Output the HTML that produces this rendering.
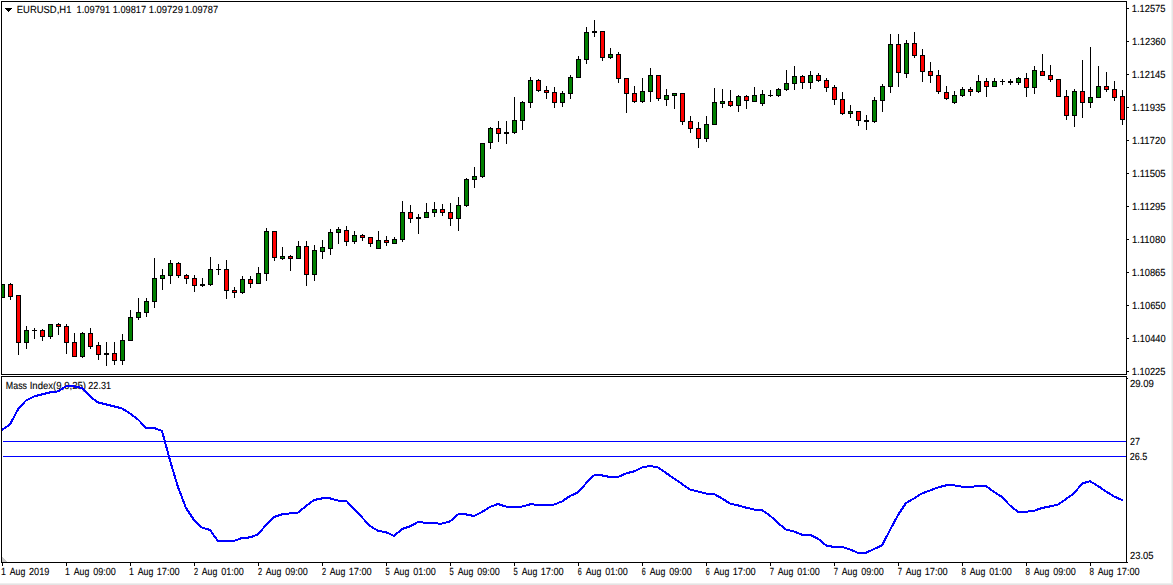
<!DOCTYPE html>
<html><head><meta charset="utf-8"><title>EURUSD,H1</title>
<style>
html,body{margin:0;padding:0;background:#fff}
body{width:1173px;height:585px;overflow:hidden;position:relative;font-family:"Liberation Sans",sans-serif}
svg{position:absolute;left:0;top:0;display:block}
text{font-family:"Liberation Sans",sans-serif;white-space:pre}
</style></head><body>
<svg width="1173" height="585" viewBox="0 0 1173 585" shape-rendering="crispEdges">
<defs><clipPath id="cm"><rect x="2" y="2" width="1124" height="372"/></clipPath><clipPath id="cs"><rect x="2" y="377" width="1124" height="185"/></clipPath></defs>
<g clip-path="url(#cm)"><rect x="2" y="284" width="1" height="14" fill="#000"/><rect x="0" y="284" width="5" height="14" fill="#000"/><rect x="1" y="285" width="3" height="12" fill="#008000"/><rect x="10" y="283" width="1" height="17" fill="#000"/><rect x="8" y="284" width="5" height="13" fill="#000"/><rect x="9" y="285" width="3" height="11" fill="#ff0000"/><rect x="18" y="295" width="1" height="60" fill="#000"/><rect x="16" y="295" width="5" height="48" fill="#000"/><rect x="17" y="296" width="3" height="46" fill="#ff0000"/><rect x="26" y="326" width="1" height="23" fill="#000"/><rect x="24" y="330" width="5" height="13" fill="#000"/><rect x="25" y="331" width="3" height="11" fill="#008000"/><rect x="34" y="328" width="1" height="11" fill="#000"/><rect x="32" y="330" width="5" height="1" fill="#000"/><rect x="42" y="329" width="1" height="12" fill="#000"/><rect x="40" y="330" width="5" height="7" fill="#000"/><rect x="41" y="331" width="3" height="5" fill="#ff0000"/><rect x="50" y="324" width="1" height="15" fill="#000"/><rect x="48" y="324" width="5" height="13" fill="#000"/><rect x="49" y="325" width="3" height="11" fill="#008000"/><rect x="58" y="323" width="1" height="12" fill="#000"/><rect x="56" y="324" width="5" height="3" fill="#000"/><rect x="57" y="325" width="3" height="1" fill="#ff0000"/><rect x="66" y="324" width="1" height="30" fill="#000"/><rect x="64" y="326" width="5" height="17" fill="#000"/><rect x="65" y="327" width="3" height="15" fill="#ff0000"/><rect x="74" y="333" width="1" height="24" fill="#000"/><rect x="72" y="342" width="5" height="15" fill="#000"/><rect x="73" y="343" width="3" height="13" fill="#ff0000"/><rect x="82" y="332" width="1" height="26" fill="#000"/><rect x="80" y="333" width="5" height="24" fill="#000"/><rect x="81" y="334" width="3" height="22" fill="#008000"/><rect x="90" y="328" width="1" height="21" fill="#000"/><rect x="88" y="333" width="5" height="14" fill="#000"/><rect x="89" y="334" width="3" height="12" fill="#ff0000"/><rect x="98" y="342" width="1" height="18" fill="#000"/><rect x="96" y="345" width="5" height="10" fill="#000"/><rect x="97" y="346" width="3" height="8" fill="#ff0000"/><rect x="106" y="342" width="1" height="24" fill="#000"/><rect x="104" y="353" width="5" height="2" fill="#000"/><rect x="114" y="342" width="1" height="23" fill="#000"/><rect x="112" y="353" width="5" height="8" fill="#000"/><rect x="113" y="354" width="3" height="6" fill="#ff0000"/><rect x="122" y="334" width="1" height="31" fill="#000"/><rect x="120" y="340" width="5" height="21" fill="#000"/><rect x="121" y="341" width="3" height="19" fill="#008000"/><rect x="130" y="310" width="1" height="31" fill="#000"/><rect x="128" y="317" width="5" height="24" fill="#000"/><rect x="129" y="318" width="3" height="22" fill="#008000"/><rect x="138" y="298" width="1" height="22" fill="#000"/><rect x="136" y="312" width="5" height="6" fill="#000"/><rect x="137" y="313" width="3" height="4" fill="#008000"/><rect x="146" y="298" width="1" height="19" fill="#000"/><rect x="144" y="301" width="5" height="12" fill="#000"/><rect x="145" y="302" width="3" height="10" fill="#008000"/><rect x="154" y="258" width="1" height="50" fill="#000"/><rect x="152" y="278" width="5" height="24" fill="#000"/><rect x="153" y="279" width="3" height="22" fill="#008000"/><rect x="162" y="269" width="1" height="21" fill="#000"/><rect x="160" y="275" width="5" height="4" fill="#000"/><rect x="161" y="276" width="3" height="2" fill="#008000"/><rect x="170" y="260" width="1" height="24" fill="#000"/><rect x="168" y="263" width="5" height="13" fill="#000"/><rect x="169" y="264" width="3" height="11" fill="#008000"/><rect x="178" y="262" width="1" height="16" fill="#000"/><rect x="176" y="263" width="5" height="13" fill="#000"/><rect x="177" y="264" width="3" height="11" fill="#ff0000"/><rect x="186" y="274" width="1" height="10" fill="#000"/><rect x="184" y="275" width="5" height="4" fill="#000"/><rect x="185" y="276" width="3" height="2" fill="#ff0000"/><rect x="194" y="275" width="1" height="17" fill="#000"/><rect x="192" y="278" width="5" height="8" fill="#000"/><rect x="193" y="279" width="3" height="6" fill="#ff0000"/><rect x="202" y="278" width="1" height="9" fill="#000"/><rect x="200" y="284" width="5" height="2" fill="#000"/><rect x="210" y="257" width="1" height="29" fill="#000"/><rect x="208" y="269" width="5" height="16" fill="#000"/><rect x="209" y="270" width="3" height="14" fill="#008000"/><rect x="218" y="264" width="1" height="11" fill="#000"/><rect x="216" y="269" width="5" height="1" fill="#000"/><rect x="226" y="260" width="1" height="39" fill="#000"/><rect x="224" y="269" width="5" height="22" fill="#000"/><rect x="225" y="270" width="3" height="20" fill="#ff0000"/><rect x="234" y="287" width="1" height="11" fill="#000"/><rect x="232" y="290" width="5" height="3" fill="#000"/><rect x="233" y="291" width="3" height="1" fill="#ff0000"/><rect x="242" y="276" width="1" height="18" fill="#000"/><rect x="240" y="279" width="5" height="14" fill="#000"/><rect x="241" y="280" width="3" height="12" fill="#008000"/><rect x="250" y="276" width="1" height="12" fill="#000"/><rect x="248" y="279" width="5" height="5" fill="#000"/><rect x="249" y="280" width="3" height="3" fill="#ff0000"/><rect x="258" y="267" width="1" height="17" fill="#000"/><rect x="256" y="273" width="5" height="11" fill="#000"/><rect x="257" y="274" width="3" height="9" fill="#008000"/><rect x="266" y="228" width="1" height="53" fill="#000"/><rect x="264" y="231" width="5" height="43" fill="#000"/><rect x="265" y="232" width="3" height="41" fill="#008000"/><rect x="274" y="231" width="1" height="30" fill="#000"/><rect x="272" y="231" width="5" height="27" fill="#000"/><rect x="273" y="232" width="3" height="25" fill="#ff0000"/><rect x="282" y="247" width="1" height="13" fill="#000"/><rect x="280" y="256" width="5" height="3" fill="#000"/><rect x="281" y="257" width="3" height="1" fill="#008000"/><rect x="290" y="255" width="1" height="16" fill="#000"/><rect x="288" y="256" width="5" height="3" fill="#000"/><rect x="289" y="257" width="3" height="1" fill="#ff0000"/><rect x="298" y="241" width="1" height="18" fill="#000"/><rect x="296" y="246" width="5" height="13" fill="#000"/><rect x="297" y="247" width="3" height="11" fill="#008000"/><rect x="306" y="241" width="1" height="45" fill="#000"/><rect x="304" y="246" width="5" height="29" fill="#000"/><rect x="305" y="247" width="3" height="27" fill="#ff0000"/><rect x="314" y="245" width="1" height="36" fill="#000"/><rect x="312" y="250" width="5" height="25" fill="#000"/><rect x="313" y="251" width="3" height="23" fill="#008000"/><rect x="322" y="240" width="1" height="19" fill="#000"/><rect x="320" y="247" width="5" height="5" fill="#000"/><rect x="321" y="248" width="3" height="3" fill="#008000"/><rect x="330" y="229" width="1" height="26" fill="#000"/><rect x="328" y="232" width="5" height="17" fill="#000"/><rect x="329" y="233" width="3" height="15" fill="#008000"/><rect x="338" y="227" width="1" height="17" fill="#000"/><rect x="336" y="229" width="5" height="4" fill="#000"/><rect x="337" y="230" width="3" height="2" fill="#008000"/><rect x="346" y="226" width="1" height="20" fill="#000"/><rect x="344" y="230" width="5" height="12" fill="#000"/><rect x="345" y="231" width="3" height="10" fill="#ff0000"/><rect x="354" y="231" width="1" height="13" fill="#000"/><rect x="352" y="235" width="5" height="7" fill="#000"/><rect x="353" y="236" width="3" height="5" fill="#008000"/><rect x="362" y="234" width="1" height="7" fill="#000"/><rect x="360" y="235" width="5" height="3" fill="#000"/><rect x="361" y="236" width="3" height="1" fill="#ff0000"/><rect x="370" y="237" width="1" height="10" fill="#000"/><rect x="368" y="237" width="5" height="7" fill="#000"/><rect x="369" y="238" width="3" height="5" fill="#ff0000"/><rect x="378" y="231" width="1" height="18" fill="#000"/><rect x="376" y="240" width="5" height="9" fill="#000"/><rect x="377" y="241" width="3" height="7" fill="#008000"/><rect x="386" y="236" width="1" height="10" fill="#000"/><rect x="384" y="240" width="5" height="3" fill="#000"/><rect x="385" y="241" width="3" height="1" fill="#ff0000"/><rect x="394" y="237" width="1" height="7" fill="#000"/><rect x="392" y="239" width="5" height="5" fill="#000"/><rect x="393" y="240" width="3" height="3" fill="#008000"/><rect x="402" y="201" width="1" height="41" fill="#000"/><rect x="400" y="212" width="5" height="28" fill="#000"/><rect x="401" y="213" width="3" height="26" fill="#008000"/><rect x="410" y="205" width="1" height="18" fill="#000"/><rect x="408" y="212" width="5" height="7" fill="#000"/><rect x="409" y="213" width="3" height="5" fill="#ff0000"/><rect x="418" y="214" width="1" height="20" fill="#000"/><rect x="416" y="217" width="5" height="2" fill="#000"/><rect x="426" y="203" width="1" height="15" fill="#000"/><rect x="424" y="212" width="5" height="6" fill="#000"/><rect x="425" y="213" width="3" height="4" fill="#008000"/><rect x="434" y="202" width="1" height="15" fill="#000"/><rect x="432" y="209" width="5" height="4" fill="#000"/><rect x="433" y="210" width="3" height="2" fill="#008000"/><rect x="442" y="204" width="1" height="12" fill="#000"/><rect x="440" y="209" width="5" height="4" fill="#000"/><rect x="441" y="210" width="3" height="2" fill="#ff0000"/><rect x="450" y="203" width="1" height="23" fill="#000"/><rect x="448" y="212" width="5" height="7" fill="#000"/><rect x="449" y="213" width="3" height="5" fill="#ff0000"/><rect x="458" y="197" width="1" height="34" fill="#000"/><rect x="456" y="205" width="5" height="14" fill="#000"/><rect x="457" y="206" width="3" height="12" fill="#008000"/><rect x="466" y="178" width="1" height="29" fill="#000"/><rect x="464" y="179" width="5" height="27" fill="#000"/><rect x="465" y="180" width="3" height="25" fill="#008000"/><rect x="474" y="167" width="1" height="21" fill="#000"/><rect x="472" y="176" width="5" height="4" fill="#000"/><rect x="473" y="177" width="3" height="2" fill="#008000"/><rect x="482" y="143" width="1" height="35" fill="#000"/><rect x="480" y="143" width="5" height="34" fill="#000"/><rect x="481" y="144" width="3" height="32" fill="#008000"/><rect x="490" y="127" width="1" height="22" fill="#000"/><rect x="488" y="128" width="5" height="15" fill="#000"/><rect x="489" y="129" width="3" height="13" fill="#008000"/><rect x="498" y="121" width="1" height="21" fill="#000"/><rect x="496" y="128" width="5" height="6" fill="#000"/><rect x="497" y="129" width="3" height="4" fill="#ff0000"/><rect x="506" y="121" width="1" height="23" fill="#000"/><rect x="504" y="132" width="5" height="2" fill="#000"/><rect x="514" y="97" width="1" height="37" fill="#000"/><rect x="512" y="120" width="5" height="13" fill="#000"/><rect x="513" y="121" width="3" height="11" fill="#008000"/><rect x="522" y="101" width="1" height="29" fill="#000"/><rect x="520" y="102" width="5" height="19" fill="#000"/><rect x="521" y="103" width="3" height="17" fill="#008000"/><rect x="530" y="77" width="1" height="31" fill="#000"/><rect x="528" y="80" width="5" height="23" fill="#000"/><rect x="529" y="81" width="3" height="21" fill="#008000"/><rect x="538" y="79" width="1" height="13" fill="#000"/><rect x="536" y="80" width="5" height="11" fill="#000"/><rect x="537" y="81" width="3" height="9" fill="#ff0000"/><rect x="546" y="86" width="1" height="13" fill="#000"/><rect x="544" y="90" width="5" height="3" fill="#000"/><rect x="545" y="91" width="3" height="1" fill="#ff0000"/><rect x="554" y="87" width="1" height="21" fill="#000"/><rect x="552" y="92" width="5" height="11" fill="#000"/><rect x="553" y="93" width="3" height="9" fill="#ff0000"/><rect x="562" y="91" width="1" height="16" fill="#000"/><rect x="560" y="93" width="5" height="10" fill="#000"/><rect x="561" y="94" width="3" height="8" fill="#008000"/><rect x="570" y="75" width="1" height="24" fill="#000"/><rect x="568" y="77" width="5" height="17" fill="#000"/><rect x="569" y="78" width="3" height="15" fill="#008000"/><rect x="578" y="56" width="1" height="22" fill="#000"/><rect x="576" y="59" width="5" height="19" fill="#000"/><rect x="577" y="60" width="3" height="17" fill="#008000"/><rect x="586" y="27" width="1" height="37" fill="#000"/><rect x="584" y="32" width="5" height="28" fill="#000"/><rect x="585" y="33" width="3" height="26" fill="#008000"/><rect x="594" y="20" width="1" height="17" fill="#000"/><rect x="592" y="31" width="5" height="2" fill="#000"/><rect x="602" y="31" width="1" height="30" fill="#000"/><rect x="600" y="31" width="5" height="27" fill="#000"/><rect x="601" y="32" width="3" height="25" fill="#ff0000"/><rect x="610" y="48" width="1" height="11" fill="#000"/><rect x="608" y="54" width="5" height="4" fill="#000"/><rect x="609" y="55" width="3" height="2" fill="#008000"/><rect x="618" y="52" width="1" height="31" fill="#000"/><rect x="616" y="54" width="5" height="25" fill="#000"/><rect x="617" y="55" width="3" height="23" fill="#ff0000"/><rect x="626" y="78" width="1" height="35" fill="#000"/><rect x="624" y="78" width="5" height="16" fill="#000"/><rect x="625" y="79" width="3" height="14" fill="#ff0000"/><rect x="634" y="86" width="1" height="17" fill="#000"/><rect x="632" y="93" width="5" height="9" fill="#000"/><rect x="633" y="94" width="3" height="7" fill="#ff0000"/><rect x="642" y="78" width="1" height="25" fill="#000"/><rect x="640" y="91" width="5" height="11" fill="#000"/><rect x="641" y="92" width="3" height="9" fill="#008000"/><rect x="650" y="68" width="1" height="34" fill="#000"/><rect x="648" y="75" width="5" height="17" fill="#000"/><rect x="649" y="76" width="3" height="15" fill="#008000"/><rect x="658" y="75" width="1" height="26" fill="#000"/><rect x="656" y="75" width="5" height="24" fill="#000"/><rect x="657" y="76" width="3" height="22" fill="#ff0000"/><rect x="666" y="89" width="1" height="17" fill="#000"/><rect x="664" y="95" width="5" height="5" fill="#000"/><rect x="665" y="96" width="3" height="3" fill="#008000"/><rect x="674" y="93" width="1" height="16" fill="#000"/><rect x="672" y="93" width="5" height="3" fill="#000"/><rect x="673" y="94" width="3" height="1" fill="#008000"/><rect x="682" y="93" width="1" height="32" fill="#000"/><rect x="680" y="93" width="5" height="29" fill="#000"/><rect x="681" y="94" width="3" height="27" fill="#ff0000"/><rect x="690" y="116" width="1" height="17" fill="#000"/><rect x="688" y="121" width="5" height="8" fill="#000"/><rect x="689" y="122" width="3" height="6" fill="#ff0000"/><rect x="698" y="122" width="1" height="26" fill="#000"/><rect x="696" y="128" width="5" height="11" fill="#000"/><rect x="697" y="129" width="3" height="9" fill="#ff0000"/><rect x="706" y="116" width="1" height="26" fill="#000"/><rect x="704" y="124" width="5" height="15" fill="#000"/><rect x="705" y="125" width="3" height="13" fill="#008000"/><rect x="714" y="88" width="1" height="37" fill="#000"/><rect x="712" y="102" width="5" height="23" fill="#000"/><rect x="713" y="103" width="3" height="21" fill="#008000"/><rect x="722" y="89" width="1" height="19" fill="#000"/><rect x="720" y="101" width="5" height="3" fill="#000"/><rect x="721" y="102" width="3" height="1" fill="#008000"/><rect x="730" y="90" width="1" height="17" fill="#000"/><rect x="728" y="101" width="5" height="5" fill="#000"/><rect x="729" y="102" width="3" height="3" fill="#ff0000"/><rect x="738" y="95" width="1" height="17" fill="#000"/><rect x="736" y="96" width="5" height="10" fill="#000"/><rect x="737" y="97" width="3" height="8" fill="#008000"/><rect x="746" y="95" width="1" height="14" fill="#000"/><rect x="744" y="96" width="5" height="5" fill="#000"/><rect x="745" y="97" width="3" height="3" fill="#ff0000"/><rect x="754" y="87" width="1" height="15" fill="#000"/><rect x="752" y="95" width="5" height="7" fill="#000"/><rect x="753" y="96" width="3" height="5" fill="#008000"/><rect x="762" y="90" width="1" height="16" fill="#000"/><rect x="760" y="94" width="5" height="10" fill="#000"/><rect x="761" y="95" width="3" height="8" fill="#008000"/><rect x="770" y="90" width="1" height="7" fill="#000"/><rect x="768" y="95" width="5" height="1" fill="#000"/><rect x="778" y="88" width="1" height="9" fill="#000"/><rect x="776" y="89" width="5" height="7" fill="#000"/><rect x="777" y="90" width="3" height="5" fill="#008000"/><rect x="786" y="70" width="1" height="21" fill="#000"/><rect x="784" y="83" width="5" height="7" fill="#000"/><rect x="785" y="84" width="3" height="5" fill="#008000"/><rect x="794" y="66" width="1" height="24" fill="#000"/><rect x="792" y="76" width="5" height="8" fill="#000"/><rect x="793" y="77" width="3" height="6" fill="#008000"/><rect x="802" y="75" width="1" height="14" fill="#000"/><rect x="800" y="76" width="5" height="7" fill="#000"/><rect x="801" y="77" width="3" height="5" fill="#ff0000"/><rect x="810" y="71" width="1" height="18" fill="#000"/><rect x="808" y="75" width="5" height="8" fill="#000"/><rect x="809" y="76" width="3" height="6" fill="#008000"/><rect x="818" y="73" width="1" height="9" fill="#000"/><rect x="816" y="75" width="5" height="6" fill="#000"/><rect x="817" y="76" width="3" height="4" fill="#ff0000"/><rect x="826" y="78" width="1" height="14" fill="#000"/><rect x="824" y="80" width="5" height="8" fill="#000"/><rect x="825" y="81" width="3" height="6" fill="#ff0000"/><rect x="834" y="85" width="1" height="20" fill="#000"/><rect x="832" y="87" width="5" height="13" fill="#000"/><rect x="833" y="88" width="3" height="11" fill="#ff0000"/><rect x="842" y="92" width="1" height="23" fill="#000"/><rect x="840" y="99" width="5" height="15" fill="#000"/><rect x="841" y="100" width="3" height="13" fill="#ff0000"/><rect x="850" y="105" width="1" height="13" fill="#000"/><rect x="848" y="111" width="5" height="3" fill="#000"/><rect x="849" y="112" width="3" height="1" fill="#008000"/><rect x="858" y="111" width="1" height="15" fill="#000"/><rect x="856" y="111" width="5" height="10" fill="#000"/><rect x="857" y="112" width="3" height="8" fill="#ff0000"/><rect x="866" y="115" width="1" height="15" fill="#000"/><rect x="864" y="120" width="5" height="2" fill="#000"/><rect x="874" y="97" width="1" height="26" fill="#000"/><rect x="872" y="100" width="5" height="22" fill="#000"/><rect x="873" y="101" width="3" height="20" fill="#008000"/><rect x="882" y="84" width="1" height="28" fill="#000"/><rect x="880" y="86" width="5" height="15" fill="#000"/><rect x="881" y="87" width="3" height="13" fill="#008000"/><rect x="890" y="34" width="1" height="59" fill="#000"/><rect x="888" y="44" width="5" height="43" fill="#000"/><rect x="889" y="45" width="3" height="41" fill="#008000"/><rect x="898" y="34" width="1" height="53" fill="#000"/><rect x="896" y="44" width="5" height="29" fill="#000"/><rect x="897" y="45" width="3" height="27" fill="#ff0000"/><rect x="906" y="40" width="1" height="38" fill="#000"/><rect x="904" y="43" width="5" height="31" fill="#000"/><rect x="905" y="44" width="3" height="29" fill="#008000"/><rect x="914" y="32" width="1" height="26" fill="#000"/><rect x="912" y="43" width="5" height="13" fill="#000"/><rect x="913" y="44" width="3" height="11" fill="#ff0000"/><rect x="922" y="49" width="1" height="33" fill="#000"/><rect x="920" y="55" width="5" height="17" fill="#000"/><rect x="921" y="56" width="3" height="15" fill="#ff0000"/><rect x="930" y="62" width="1" height="21" fill="#000"/><rect x="928" y="71" width="5" height="5" fill="#000"/><rect x="929" y="72" width="3" height="3" fill="#ff0000"/><rect x="938" y="70" width="1" height="24" fill="#000"/><rect x="936" y="75" width="5" height="17" fill="#000"/><rect x="937" y="76" width="3" height="15" fill="#ff0000"/><rect x="946" y="86" width="1" height="14" fill="#000"/><rect x="944" y="92" width="5" height="7" fill="#000"/><rect x="945" y="93" width="3" height="5" fill="#ff0000"/><rect x="954" y="91" width="1" height="13" fill="#000"/><rect x="952" y="95" width="5" height="8" fill="#000"/><rect x="953" y="96" width="3" height="6" fill="#008000"/><rect x="962" y="87" width="1" height="10" fill="#000"/><rect x="960" y="89" width="5" height="7" fill="#000"/><rect x="961" y="90" width="3" height="5" fill="#008000"/><rect x="970" y="87" width="1" height="9" fill="#000"/><rect x="968" y="89" width="5" height="3" fill="#000"/><rect x="969" y="90" width="3" height="1" fill="#ff0000"/><rect x="978" y="75" width="1" height="18" fill="#000"/><rect x="976" y="81" width="5" height="11" fill="#000"/><rect x="977" y="82" width="3" height="9" fill="#008000"/><rect x="986" y="78" width="1" height="19" fill="#000"/><rect x="984" y="81" width="5" height="6" fill="#000"/><rect x="985" y="82" width="3" height="4" fill="#ff0000"/><rect x="994" y="78" width="1" height="9" fill="#000"/><rect x="992" y="81" width="5" height="6" fill="#000"/><rect x="993" y="82" width="3" height="4" fill="#008000"/><rect x="1002" y="79" width="1" height="6" fill="#000"/><rect x="1000" y="81" width="5" height="1" fill="#000"/><rect x="1010" y="79" width="1" height="6" fill="#000"/><rect x="1008" y="81" width="5" height="2" fill="#000"/><rect x="1018" y="77" width="1" height="8" fill="#000"/><rect x="1016" y="78" width="5" height="5" fill="#000"/><rect x="1017" y="79" width="3" height="3" fill="#008000"/><rect x="1026" y="73" width="1" height="24" fill="#000"/><rect x="1024" y="78" width="5" height="10" fill="#000"/><rect x="1025" y="79" width="3" height="8" fill="#ff0000"/><rect x="1034" y="66" width="1" height="28" fill="#000"/><rect x="1032" y="70" width="5" height="18" fill="#000"/><rect x="1033" y="71" width="3" height="16" fill="#008000"/><rect x="1042" y="54" width="1" height="22" fill="#000"/><rect x="1040" y="71" width="5" height="5" fill="#000"/><rect x="1041" y="72" width="3" height="3" fill="#ff0000"/><rect x="1050" y="65" width="1" height="17" fill="#000"/><rect x="1048" y="75" width="5" height="5" fill="#000"/><rect x="1049" y="76" width="3" height="3" fill="#ff0000"/><rect x="1058" y="79" width="1" height="18" fill="#000"/><rect x="1056" y="79" width="5" height="18" fill="#000"/><rect x="1057" y="80" width="3" height="16" fill="#ff0000"/><rect x="1066" y="90" width="1" height="30" fill="#000"/><rect x="1064" y="96" width="5" height="20" fill="#000"/><rect x="1065" y="97" width="3" height="18" fill="#ff0000"/><rect x="1074" y="89" width="1" height="38" fill="#000"/><rect x="1072" y="91" width="5" height="25" fill="#000"/><rect x="1073" y="92" width="3" height="23" fill="#008000"/><rect x="1082" y="60" width="1" height="58" fill="#000"/><rect x="1080" y="91" width="5" height="12" fill="#000"/><rect x="1081" y="92" width="3" height="10" fill="#ff0000"/><rect x="1090" y="47" width="1" height="61" fill="#000"/><rect x="1088" y="97" width="5" height="6" fill="#000"/><rect x="1089" y="98" width="3" height="4" fill="#008000"/><rect x="1098" y="66" width="1" height="32" fill="#000"/><rect x="1096" y="86" width="5" height="12" fill="#000"/><rect x="1097" y="87" width="3" height="10" fill="#008000"/><rect x="1106" y="72" width="1" height="20" fill="#000"/><rect x="1104" y="86" width="5" height="4" fill="#000"/><rect x="1105" y="87" width="3" height="2" fill="#ff0000"/><rect x="1114" y="81" width="1" height="20" fill="#000"/><rect x="1112" y="89" width="5" height="9" fill="#000"/><rect x="1113" y="90" width="3" height="7" fill="#ff0000"/><rect x="1122" y="90" width="1" height="35" fill="#000"/><rect x="1120" y="96" width="5" height="24" fill="#000"/><rect x="1121" y="97" width="3" height="22" fill="#ff0000"/></g>
<g font-family="Liberation Sans, sans-serif" font-size="10.3" fill="#000" stroke="#000" stroke-width="0.12" xml:space="preserve" style="white-space:pre;text-rendering:geometricPrecision"><text x="5.83" y="389" textLength="21.17" lengthAdjust="spacingAndGlyphs">Mass</text><text x="29.67" y="389" textLength="56.39" lengthAdjust="spacingAndGlyphs">Index(9,9,25)</text><text x="88.33" y="389" textLength="22.67" lengthAdjust="spacingAndGlyphs">22.31</text></g>
<rect x="3" y="441" width="1123" height="1" fill="#0000ff"/>
<rect x="3" y="456" width="1123" height="1" fill="#0000ff"/>
<g clip-path="url(#cs)"><polyline points="2.0,430.0 10.0,424.4 18.0,409.4 26.0,400.4 34.0,396.4 42.0,394.4 50.0,392.4 58.0,391.4 66.0,386.4 74.0,386.4 82.0,388.0 90.0,396.4 98.0,402.4 106.0,404.4 114.0,406.4 122.0,408.4 130.0,413.4 138.0,419.4 146.0,428.0 154.0,428.0 162.0,431.0 170.0,460.4 178.0,487.0 186.0,508.0 194.0,520.0 202.0,527.6 210.0,530.0 218.0,541.0 226.0,541.0 234.0,541.0 242.0,538.0 250.0,537.4 258.0,534.4 266.0,525.0 274.0,517.0 282.0,514.4 290.0,513.4 298.0,512.6 306.0,506.0 314.0,500.0 322.0,498.4 330.0,498.4 338.0,500.5 346.0,500.5 354.0,509.0 362.0,517.4 370.0,526.0 378.0,530.8 386.0,532.2 394.0,536.0 402.0,529.0 410.0,526.4 418.0,522.0 426.0,522.8 434.0,523.4 442.0,523.6 450.0,521.4 458.0,514.4 466.0,514.4 474.0,516.0 482.0,512.0 490.0,507.0 498.0,504.0 506.0,506.6 514.0,506.6 522.0,506.6 530.0,504.4 538.0,504.6 546.0,505.0 554.0,504.6 562.0,501.4 570.0,496.0 578.0,492.4 586.0,483.4 594.0,475.4 602.0,475.4 610.0,477.0 618.0,477.0 626.0,473.4 634.0,471.4 642.0,467.4 650.0,466.0 658.0,467.4 666.0,473.0 674.0,478.4 682.0,484.0 690.0,489.6 698.0,491.6 706.0,493.6 714.0,494.0 722.0,498.4 730.0,503.6 738.0,505.4 746.0,507.6 754.0,509.6 762.0,510.0 770.0,515.6 778.0,523.0 786.0,529.6 794.0,531.6 802.0,534.7 810.0,534.7 818.0,538.7 826.0,545.4 834.0,547.0 842.0,547.0 850.0,549.4 858.0,552.8 866.0,552.8 874.0,549.0 882.0,545.4 890.0,530.0 898.0,515.0 906.0,503.0 914.0,498.4 922.0,493.4 930.0,490.4 938.0,487.4 946.0,485.4 954.0,485.4 962.0,486.6 970.0,486.9 978.0,486.1 986.0,486.1 994.0,491.8 1002.0,497.0 1010.0,505.6 1018.0,511.7 1026.0,511.7 1034.0,510.8 1042.0,508.0 1050.0,506.4 1058.0,504.6 1066.0,499.0 1074.0,493.4 1082.0,483.6 1090.0,481.2 1098.0,486.0 1106.0,491.4 1114.0,496.4 1122.0,500.0 1123.2,500.4" fill="none" stroke="#0000ff" stroke-width="2" stroke-linejoin="round" stroke-linecap="butt"/></g>
<rect x="1" y="1" width="1126" height="1" fill="#000"/><rect x="1" y="1" width="1" height="374" fill="#000"/><rect x="1" y="374" width="1126" height="1" fill="#000"/><rect x="1126" y="1" width="1" height="374" fill="#000"/><rect x="1" y="376" width="1126" height="1" fill="#000"/><rect x="1" y="376" width="1" height="187" fill="#000"/><rect x="1" y="562" width="1127" height="1" fill="#000"/><rect x="1126" y="376" width="1" height="187" fill="#000"/><rect x="1127" y="8" width="2" height="1" fill="#000"/><rect x="1127" y="41" width="2" height="1" fill="#000"/><rect x="1127" y="74" width="2" height="1" fill="#000"/><rect x="1127" y="107" width="2" height="1" fill="#000"/><rect x="1127" y="140" width="2" height="1" fill="#000"/><rect x="1127" y="173" width="2" height="1" fill="#000"/><rect x="1127" y="206" width="2" height="1" fill="#000"/><rect x="1127" y="239" width="2" height="1" fill="#000"/><rect x="1127" y="272" width="2" height="1" fill="#000"/><rect x="1127" y="305" width="2" height="1" fill="#000"/><rect x="1127" y="338" width="2" height="1" fill="#000"/><rect x="1127" y="371" width="2" height="1" fill="#000"/><rect x="1127" y="378" width="1" height="1" fill="#000"/><rect x="2" y="563" width="1" height="3" fill="#000"/><rect x="66" y="563" width="1" height="3" fill="#000"/><rect x="130" y="563" width="1" height="3" fill="#000"/><rect x="194" y="563" width="1" height="3" fill="#000"/><rect x="258" y="563" width="1" height="3" fill="#000"/><rect x="322" y="563" width="1" height="3" fill="#000"/><rect x="386" y="563" width="1" height="3" fill="#000"/><rect x="450" y="563" width="1" height="3" fill="#000"/><rect x="514" y="563" width="1" height="3" fill="#000"/><rect x="578" y="563" width="1" height="3" fill="#000"/><rect x="642" y="563" width="1" height="3" fill="#000"/><rect x="706" y="563" width="1" height="3" fill="#000"/><rect x="770" y="563" width="1" height="3" fill="#000"/><rect x="834" y="563" width="1" height="3" fill="#000"/><rect x="898" y="563" width="1" height="3" fill="#000"/><rect x="962" y="563" width="1" height="3" fill="#000"/><rect x="1026" y="563" width="1" height="3" fill="#000"/><rect x="1090" y="563" width="1" height="3" fill="#000"/><polygon points="2,557 2,562 7,562" fill="#c8c8c8"/><polygon points="5,8 12,8 8.5,12" fill="#000"/><rect x="1171" y="0" width="1" height="585" fill="#f2f2f2"/><rect x="1172" y="0" width="1" height="585" fill="#e6e6e6"/><rect x="0" y="583" width="1173" height="1" fill="#eeeeee"/><rect x="0" y="584" width="1173" height="1" fill="#e4e4e4"/>
<g font-family="Liberation Sans, sans-serif" font-size="10.3" fill="#000" stroke="#000" stroke-width="0.12" xml:space="preserve" style="white-space:pre;text-rendering:geometricPrecision"><text x="1131.76" y="12" textLength="33.74" lengthAdjust="spacingAndGlyphs">1.12575</text><text x="1132.11" y="45" textLength="33.56" lengthAdjust="spacingAndGlyphs">1.12360</text><text x="1131.76" y="78" textLength="33.74" lengthAdjust="spacingAndGlyphs">1.12145</text><text x="1131.91" y="111" textLength="33.64" lengthAdjust="spacingAndGlyphs">1.11935</text><text x="1131.91" y="144" textLength="33.51" lengthAdjust="spacingAndGlyphs">1.11720</text><text x="1131.91" y="177" textLength="33.64" lengthAdjust="spacingAndGlyphs">1.11505</text><text x="1131.91" y="210" textLength="33.64" lengthAdjust="spacingAndGlyphs">1.11295</text><text x="1131.91" y="243" textLength="33.51" lengthAdjust="spacingAndGlyphs">1.11080</text><text x="1131.76" y="276" textLength="33.74" lengthAdjust="spacingAndGlyphs">1.10865</text><text x="1132.11" y="309" textLength="33.56" lengthAdjust="spacingAndGlyphs">1.10650</text><text x="1132.11" y="342" textLength="33.56" lengthAdjust="spacingAndGlyphs">1.10440</text><text x="1131.76" y="375" textLength="33.74" lengthAdjust="spacingAndGlyphs">1.10225</text><text x="1129.95" y="387" textLength="23.92" lengthAdjust="spacingAndGlyphs">29.09</text><text x="1129.96" y="445" textLength="9.95" lengthAdjust="spacingAndGlyphs">27</text><text x="1129.84" y="460" textLength="17.53" lengthAdjust="spacingAndGlyphs">26.5</text><text x="1129.95" y="559" textLength="23.50" lengthAdjust="spacingAndGlyphs">23.05</text><text x="1.09" y="575" textLength="4.93" lengthAdjust="spacingAndGlyphs">1</text><text x="9.74" y="575" textLength="15.57" lengthAdjust="spacingAndGlyphs">Aug</text><text x="29.02" y="575" textLength="20.31" lengthAdjust="spacingAndGlyphs">2019</text><text x="65.09" y="575" textLength="4.93" lengthAdjust="spacingAndGlyphs">1</text><text x="73.74" y="575" textLength="15.57" lengthAdjust="spacingAndGlyphs">Aug</text><text x="93.13" y="575" textLength="22.62" lengthAdjust="spacingAndGlyphs">09:00</text><text x="129.09" y="575" textLength="4.93" lengthAdjust="spacingAndGlyphs">1</text><text x="137.74" y="575" textLength="15.57" lengthAdjust="spacingAndGlyphs">Aug</text><text x="156.63" y="575" textLength="23.15" lengthAdjust="spacingAndGlyphs">17:00</text><text x="193.89" y="575" textLength="4.13" lengthAdjust="spacingAndGlyphs">2</text><text x="201.74" y="575" textLength="15.57" lengthAdjust="spacingAndGlyphs">Aug</text><text x="221.13" y="575" textLength="22.62" lengthAdjust="spacingAndGlyphs">01:00</text><text x="257.89" y="575" textLength="4.13" lengthAdjust="spacingAndGlyphs">2</text><text x="265.74" y="575" textLength="15.57" lengthAdjust="spacingAndGlyphs">Aug</text><text x="285.13" y="575" textLength="22.62" lengthAdjust="spacingAndGlyphs">09:00</text><text x="321.89" y="575" textLength="4.13" lengthAdjust="spacingAndGlyphs">2</text><text x="329.74" y="575" textLength="15.57" lengthAdjust="spacingAndGlyphs">Aug</text><text x="348.63" y="575" textLength="23.15" lengthAdjust="spacingAndGlyphs">17:00</text><text x="385.51" y="575" textLength="4.22" lengthAdjust="spacingAndGlyphs">5</text><text x="393.74" y="575" textLength="15.57" lengthAdjust="spacingAndGlyphs">Aug</text><text x="413.13" y="575" textLength="22.62" lengthAdjust="spacingAndGlyphs">01:00</text><text x="449.51" y="575" textLength="4.22" lengthAdjust="spacingAndGlyphs">5</text><text x="457.74" y="575" textLength="15.57" lengthAdjust="spacingAndGlyphs">Aug</text><text x="477.13" y="575" textLength="22.62" lengthAdjust="spacingAndGlyphs">09:00</text><text x="513.51" y="575" textLength="4.22" lengthAdjust="spacingAndGlyphs">5</text><text x="521.74" y="575" textLength="15.57" lengthAdjust="spacingAndGlyphs">Aug</text><text x="540.63" y="575" textLength="23.15" lengthAdjust="spacingAndGlyphs">17:00</text><text x="577.76" y="575" textLength="3.94" lengthAdjust="spacingAndGlyphs">6</text><text x="585.74" y="575" textLength="15.57" lengthAdjust="spacingAndGlyphs">Aug</text><text x="605.13" y="575" textLength="22.62" lengthAdjust="spacingAndGlyphs">01:00</text><text x="641.76" y="575" textLength="3.94" lengthAdjust="spacingAndGlyphs">6</text><text x="649.74" y="575" textLength="15.57" lengthAdjust="spacingAndGlyphs">Aug</text><text x="669.13" y="575" textLength="22.62" lengthAdjust="spacingAndGlyphs">09:00</text><text x="705.76" y="575" textLength="3.94" lengthAdjust="spacingAndGlyphs">6</text><text x="713.74" y="575" textLength="15.57" lengthAdjust="spacingAndGlyphs">Aug</text><text x="732.63" y="575" textLength="23.15" lengthAdjust="spacingAndGlyphs">17:00</text><text x="769.64" y="575" textLength="4.27" lengthAdjust="spacingAndGlyphs">7</text><text x="777.74" y="575" textLength="15.57" lengthAdjust="spacingAndGlyphs">Aug</text><text x="797.13" y="575" textLength="22.62" lengthAdjust="spacingAndGlyphs">01:00</text><text x="833.64" y="575" textLength="4.27" lengthAdjust="spacingAndGlyphs">7</text><text x="841.74" y="575" textLength="15.57" lengthAdjust="spacingAndGlyphs">Aug</text><text x="861.13" y="575" textLength="22.62" lengthAdjust="spacingAndGlyphs">09:00</text><text x="897.64" y="575" textLength="4.27" lengthAdjust="spacingAndGlyphs">7</text><text x="905.74" y="575" textLength="15.57" lengthAdjust="spacingAndGlyphs">Aug</text><text x="924.63" y="575" textLength="23.15" lengthAdjust="spacingAndGlyphs">17:00</text><text x="961.39" y="575" textLength="4.47" lengthAdjust="spacingAndGlyphs">8</text><text x="969.74" y="575" textLength="15.57" lengthAdjust="spacingAndGlyphs">Aug</text><text x="989.13" y="575" textLength="22.62" lengthAdjust="spacingAndGlyphs">01:00</text><text x="1025.39" y="575" textLength="4.47" lengthAdjust="spacingAndGlyphs">8</text><text x="1033.74" y="575" textLength="15.57" lengthAdjust="spacingAndGlyphs">Aug</text><text x="1053.13" y="575" textLength="22.62" lengthAdjust="spacingAndGlyphs">09:00</text><text x="1089.39" y="575" textLength="4.47" lengthAdjust="spacingAndGlyphs">8</text><text x="1097.74" y="575" textLength="15.57" lengthAdjust="spacingAndGlyphs">Aug</text><text x="1116.63" y="575" textLength="23.15" lengthAdjust="spacingAndGlyphs">17:00</text><text x="16.81" y="13" textLength="54.60" lengthAdjust="spacingAndGlyphs">EURUSD,H1</text><text x="76.58" y="13" textLength="33.64" lengthAdjust="spacingAndGlyphs">1.09791</text><text x="112.69" y="13" textLength="33.35" lengthAdjust="spacingAndGlyphs">1.09817</text><text x="148.63" y="13" textLength="34.30" lengthAdjust="spacingAndGlyphs">1.09729</text><text x="184.68" y="13" textLength="33.35" lengthAdjust="spacingAndGlyphs">1.09787</text></g>
</svg>
</body></html>
